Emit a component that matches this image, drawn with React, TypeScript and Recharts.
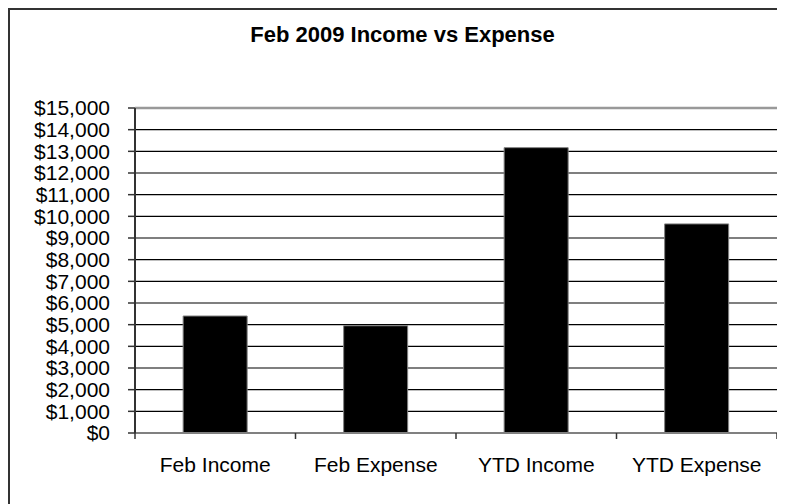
import React from 'react';
import { BarChart, Bar, XAxis, YAxis, CartesianGrid, ReferenceLine } from 'recharts';

const categories = ['Feb Income', 'Feb Expense', 'YTD Income', 'YTD Expense'];
const amounts = [5400, 4950, 13170, 9650];
const yTicks = [0, 1000, 2000, 3000, 4000, 5000, 6000, 7000, 8000, 9000, 10000, 11000, 12000, 13000, 14000, 15000];

const data = categories.map((name, i) => ({ name, amount: amounts[i] }));

const CHART_W = 775;
const CHART_H = 494;
const margin = { top: 98, right: 8, left: 0, bottom: 21 };
const Y_AXIS_W = 125;
const FONT = '"Liberation Sans", Arial, sans-serif';

const formatDollar = (v: number) => '$' + v.toLocaleString('en-US');

// category label at the band centre, tick marks at the band edges (Excel style)
const CategoryTick = (props: any) => {
  const { x, y, payload, index, visibleTicksCount } = props;
  const plotW = CHART_W - margin.right - Y_AXIS_W;
  const half = payload && typeof payload.offset === 'number' && payload.offset > 0
    ? payload.offset
    : plotW / categories.length / 2;
  const axisY = y - 24;
  const last = index === (visibleTicksCount ?? categories.length) - 1;
  return (
    <g>
      <line x1={x - half} x2={x - half} y1={axisY} y2={axisY + 6} stroke="#333" strokeWidth={1.5} />
      {last && (
        <line x1={x + half} x2={x + half} y1={axisY} y2={axisY + 6} stroke="#333" strokeWidth={1.5} />
      )}
      <text x={x} y={y} dy="0.71em" textAnchor="middle" fill="#000" fontSize={21} fontFamily={FONT}>
        {payload.value}
      </text>
    </g>
  );
};

export default function App() {
  return (
    <div
      style={{
        position: 'relative',
        width: 777,
        height: 496,
        boxSizing: 'border-box',
        borderLeft: '2px solid #333',
        borderTop: '2px solid #333',
        background: '#fff',
        overflow: 'hidden',
      }}
    >
      <div
        style={{
          position: 'absolute',
          top: 14,
          left: 0,
          width: 785,
          textAlign: 'center',
          fontFamily: FONT,
          fontWeight: 'bold',
          fontSize: 22,
          lineHeight: '22px',
          color: '#000',
        }}
      >
        Feb 2009 Income vs Expense
      </div>
      <BarChart width={CHART_W} height={CHART_H} data={data} margin={margin} barCategoryGap="30%">
        <CartesianGrid horizontal vertical={false} stroke="#000" strokeWidth={1.2} />
        <XAxis
          dataKey="name"
          height={50}
          axisLine={{ stroke: '#808080', strokeWidth: 2 }}
          tickLine={false}
          tickSize={6}
          tickMargin={18}
          interval={0}
          tick={<CategoryTick />}
        />
        <YAxis
          width={Y_AXIS_W}
          domain={[0, 15000]}
          ticks={yTicks}
          interval={0}
          tickFormatter={formatDollar}
          axisLine={{ stroke: '#333', strokeWidth: 2 }}
          tickLine={{ stroke: '#333', strokeWidth: 1.5 }}
          tickSize={7}
          tickMargin={18}
          tick={{ fill: '#000', fontSize: 21, fontFamily: FONT }}
        />
        <YAxis
          yAxisId="right"
          orientation="right"
          width={0}
          domain={[0, 15000]}
          tick={false}
          tickLine={false}
          axisLine={{ stroke: '#999', strokeWidth: 2.5 }}
        />
        <ReferenceLine y={15000} stroke="#999" strokeWidth={2.5} />
        <Bar dataKey="amount" fill="#000" stroke="#808080" strokeWidth={1} isAnimationActive={false} />
      </BarChart>
    </div>
  );
}
